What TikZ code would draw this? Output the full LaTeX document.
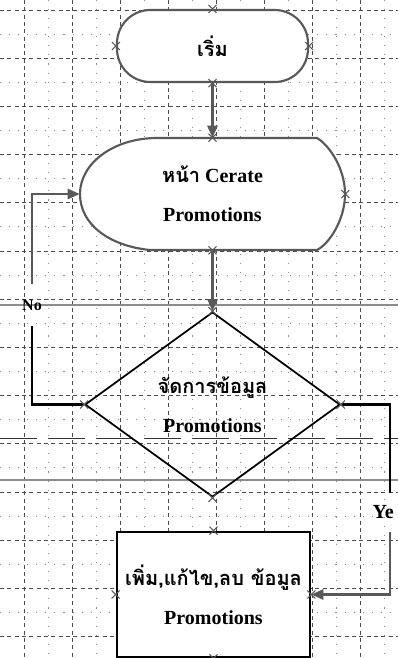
\documentclass[tikz,border=0pt]{standalone}
\usepackage{fontspec}
\setmainfont{Liberation Serif}
\newfontfamily\thaifont[Script=Thai]{Loma}
\usetikzlibrary{arrows.meta,shapes.geometric,shapes.misc}
\begin{document}
\begin{tikzpicture}[x=0.75pt,y=-0.75pt,
  gmaj/.style={draw=black!70,line width=0.5pt,dash pattern=on 3pt off 2.5pt},
  gmin/.style={draw=black!45,line width=0.5pt,dash pattern=on 0.8pt off 6pt},
  txt/.style={font=\fontsize{15}{29}\selectfont\bfseries,align=center},
  lbl/.style={font=\fontsize{15}{18}\selectfont\bfseries,inner sep=1pt},
  arr/.style={-{Triangle[length=9pt,width=7.5pt]},line width=2pt,draw=black!65},
  conn/.style={line width=1.6pt,draw=black},
  startbox/.style={draw=black!65,line width=1.6pt,fill=white,rectangle,rounded corners=25pt,minimum width=143.25pt,minimum height=54pt,inner sep=0pt},
  decbox/.style={draw=black,line width=1.3pt,diamond,minimum width=191.25pt,minimum height=138.75pt,inner sep=0pt},
  procbox/.style={draw=black,line width=2pt,fill=white,rectangle,minimum width=144.75pt,minimum height=93.75pt,inner sep=0pt},
  xmk/.style={draw=black!65,line width=0.8pt},
  xm/.pic={\draw[xmk] (-4,-4)--(4,4) (-4,4)--(4,-4);}
]
\clip (0,0) rectangle (398,658);
\fill[white] (0,0) rectangle (398,658);
% grid
\foreach \i in {0,...,8} \draw[gmin] (48+48*\i,0) -- (48+48*\i,658);
\foreach \i in {0,...,13} \draw[gmin] (0,34+48.2*\i) -- (398,34+48.2*\i);
\foreach \i in {0,...,7} \draw[gmaj] (24+48*\i,0) -- (24+48*\i,658);
\foreach \i in {0,...,13} \draw[gmaj] (0,10+48.2*\i) -- (398,10+48.2*\i);
% scan artefacts
\draw[black!45,line width=1pt] (0,305) -- (398,305);
\draw[black!45,line width=1pt] (0,480) -- (398,480);
\draw[black!80,line width=0.6pt,dash pattern=on 28pt off 8pt] (0,438) -- (398,438);
% start
\node[startbox,txt] (start) at (212.5,46) {\thaifont เริ่ม};
% page shape
\filldraw[fill=white,draw=black!65,line width=1.6pt]
  (157,138) -- (317,138) .. controls (329,145) and (345,168) .. (345,194)
  .. controls (345,220) and (329,244) .. (317,250) -- (150,250)
  .. controls (110,246) and (80,225) .. (80,194)
  .. controls (80,163) and (114,138) .. (157,138) -- cycle;
\node[rectangle,minimum width=198.75pt,minimum height=84pt,inner sep=0pt,txt] (page) at (212.5,194) {{\thaifont หน้า} Cerate\\Promotions};
% decision
\node[decbox,txt] (dec) at (212.5,404.5) {{\thaifont จัดการข้อมูล}\\Promotions};
% process
\node[procbox,txt] (proc) at (213.5,594.5) {{\thaifont เพิ่ม,แก้ไข,ลบ ข้อมูล}\\Promotions};
% connectors
\draw[arr] (start.south) -- (page.north);
\draw[arr] (page.south) -- (dec.north);
\node[lbl,font=\fontsize{12}{14}\selectfont\bfseries,minimum height=31pt] (no) at (32,305) {No};
\draw[conn] (dec.west) -| (no.south);
\draw[arr] (no.north) |- (page.west);
\coordinate (yt) at (390,493);
\coordinate (yb) at (390,532);
\node[lbl,anchor=west] (yes) at (371,512) {Ye};
\draw[conn] (dec.east) -| (yt);
\draw[arr] (yb) |- (proc.east);
% connection marks
\foreach \a in {start.north,start.south,start.east,start.west,page.north,page.east,page.south,dec.north,dec.south,dec.west,dec.east,proc.north,proc.west,proc.east,proc.south}
  \path (\a) pic{xm};
\end{tikzpicture}
\end{document}
